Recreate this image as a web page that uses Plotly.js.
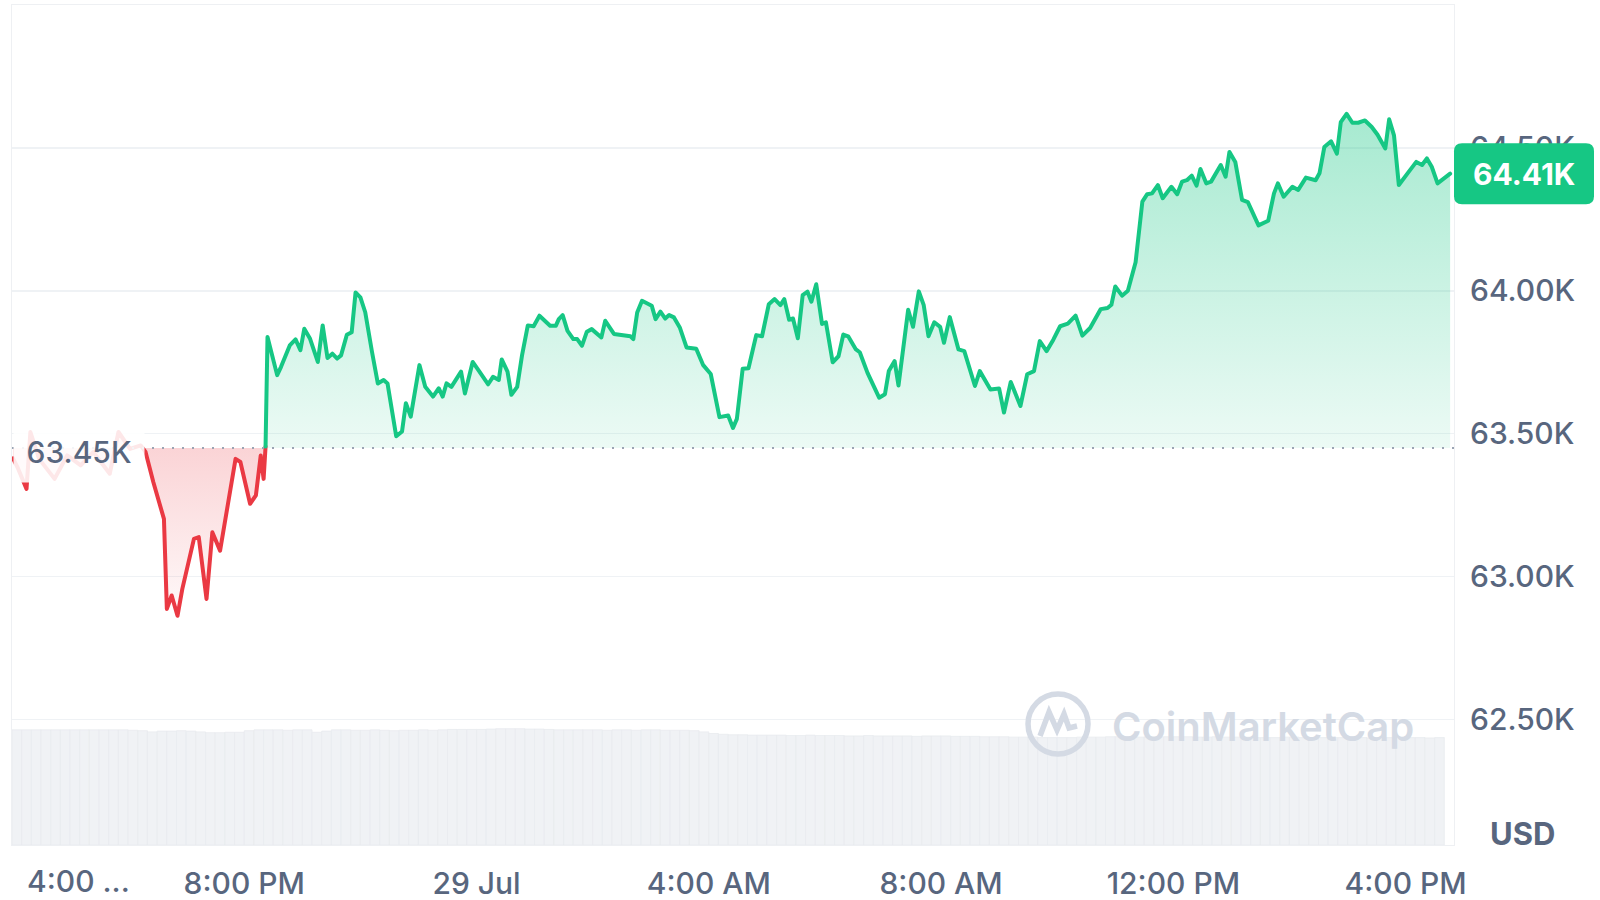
<!DOCTYPE html>
<html>
<head>
<meta charset="utf-8">
<script src="https://cdn.plot.ly/plotly-3.0.1.min.js"></script>
<style>
  html, body { margin: 0; padding: 0; background: #ffffff; }
  #chart { width: 1600px; height: 900px; }
  #chart .scatterlayer path.js-line { stroke-linejoin: round; stroke-linecap: round; }
</style>
</head>
<body>
<div id="chart"></div>
<script>
// ---------- DATA ----------
const openPrice = 63450;           // reference (dotted) price
const splitIndex = 31;             // index where the line crosses above the open price

const timesJul28 = ["16:01","16:06","16:15","16:19","16:28","16:44","16:57","17:11","17:24","17:41","17:50",
  "18:02","18:13","18:18","18:26","18:37","18:40","18:45","18:51","18:56","19:08","19:13","19:21","19:27","19:35",
  "19:51","19:56","20:06","20:12","20:17","20:20","20:22","20:24","20:34","20:38","20:47","20:53","20:58","21:02",
  "21:08","21:16","21:21","21:26","21:31","21:36","21:40","21:46","21:51","21:55","22:00","22:05","22:12","22:18",
  "22:24","22:28","22:37","22:43","22:47","22:52","23:01","23:07","23:15","23:21","23:25","23:29","23:34","23:44",
  "23:48","23:56"];
const timesJul29 = ["00:03","00:12","00:17","00:23","00:26","00:32","00:36","00:42","00:47","00:53","00:59",
  "01:05","01:16","01:22","01:25","01:29","01:34","01:40","01:44","01:49","01:54","01:59","02:09","02:13","02:22",
  "02:39","02:42","02:46","02:51","03:01","03:05","03:10","03:15","03:19","03:24","03:30","03:37","03:47","03:54",
  "04:02","04:11","04:20","04:25","04:29","04:35","04:41","04:49","04:55","05:02","05:08","05:14","05:18","05:23",
  "05:27","05:32","05:37","05:42","05:46","05:51","05:57","06:01","06:08","06:14","06:19","06:24","06:32","06:36",
  "06:44","06:56","07:02","07:06","07:12","07:16","07:26","07:31","07:37","07:42","07:47","07:53","07:59","08:03",
  "08:09","08:18","08:24","08:35","08:40","08:51","09:00","09:05","09:12","09:22","09:29","09:36","09:42","09:49",
  "09:56","10:03","10:11","10:19","10:26","10:34","10:45","10:52","10:56","11:00","11:07","11:13","11:17","11:21",
  "11:28","11:33","11:38","11:44","11:49","11:58","12:04","12:09","12:14","12:19","12:24","12:28","12:34","12:39",
  "12:49","12:54","12:58","13:04","13:11","13:17","13:28","13:38","13:44","13:48","13:54","14:03","14:09","14:17",
  "14:27","14:31","14:36","14:43","14:49","14:53","14:59","15:05","15:11","15:18","15:25","15:31","15:39","15:43",
  "15:48","15:53","16:02","16:11","16:17","16:22","16:27","16:33","16:46"];

const prices = [63414,63380,63307,63506,63412,63342,63424,63389,63436,63360,63506,63447,63459,63436,63331,
  63202,62887,62934,62863,62957,63132,63138,62922,63155,63091,63412,63401,63255,63284,63424,63342,63455,
  63838,63705,63734,63809,63830,63792,63867,63832,63751,63879,63765,63780,63763,63774,63846,63855,63994,
  63977,63925,63786,63676,63688,63676,63491,63508,63607,63560,63740,63664,63630,63659,63630,63676,63664,
  63717,63641,63751,63717,63673,63699,63688,63760,63717,63636,63664,63774,63879,63876,63913,63878,63878,
  63901,63915,63860,63831,63831,63808,63857,63866,63837,63895,63849,63841,63831,63924,63965,63948,63901,
  63927,63903,63915,63907,63872,63802,63797,63741,63709,63558,63564,63520,63552,63727,63729,63845,63841,
  63953,63971,63950,63971,63899,63903,63834,63985,63997,63962,64023,63884,63890,63750,63771,63847,63841,
  63795,63785,63713,63626,63638,63719,63754,63669,63934,63874,63998,63951,63841,63890,63874,63818,63908,
  63795,63789,63667,63719,63655,63658,63574,63681,63597,63708,63719,63824,63789,63829,63876,63885,63913,
  63843,63870,63936,63940,63951,64015,63983,64000,64050,64100,64312,64338,64341,64370,64324,64364,64338,
  64382,64387,64403,64368,64426,64376,64382,64440,64399,64486,64451,64318,64310,64229,64245,64341,64376,
  64329,64364,64353,64396,64387,64411,64503,64523,64480,64590,64619,64588,64588,64596,64573,64546,64498,
  64600,64544,64370,64411,64451,64440,64463,64434,64376,64410];

// 24h volume (billions USD), one bar every 10 minutes starting 16:05
const volumeStart = "2024-07-28 16:05";
const volumeStepMinutes = 10;
const volumes = [
  28.5,28.5,28.5,28.5,28.5,28.5, 28.5,28.5,28.5,28.5,28.5,28.5,
  28.4,28.3,28.0,28.2,28.2,28.3, 28.2,28.0,27.8,27.8,27.9,27.9,
  28.3,28.5,28.5,28.5,28.4,28.5, 28.5,27.9,28.2,28.5,28.5,28.4,
  28.4,28.5,28.4,28.3,28.4,28.4, 28.5,28.4,28.5,28.6,28.6,28.6,
  28.6,28.7,28.8,28.8,28.8,28.7, 28.7,28.6,28.5,28.5,28.5,28.5,
  28.5,28.4,28.5,28.5,28.4,28.5, 28.5,28.4,28.4,28.4,28.3,28.0,
  27.6,27.4,27.3,27.3,27.2,27.2, 27.2,27.2,27.1,27.1,27.2,27.1,
  27.1,27.1,27.0,27.0,27.1,27.0, 27.0,27.0,27.0,26.9,27.0,27.0,
  27.0,26.9,26.9,26.9,26.8,26.8, 26.8,26.7,26.7,26.7,26.6,26.6,
  26.6,26.6,26.7,26.7,26.7,26.8, 26.8,26.7,26.7,26.8,26.8,26.8,
  26.8,26.8,26.7,26.7,26.8,26.7, 26.7,26.7,26.6,26.6,26.6,26.7,
  26.7,26.6,26.6,26.6,26.6,26.6, 26.5,26.6,26.5,26.6,26.6,26.6,
  26.6,26.6,26.5,26.6];

const xTickVals = ["2024-07-28 20:00","2024-07-29 00:00","2024-07-29 04:00","2024-07-29 08:00","2024-07-29 12:00","2024-07-29 16:00"];
const xTickText = ["8:00 PM","29 Jul","4:00 AM","8:00 AM","12:00 PM","4:00 PM"];
const firstTickText = "4:00 ...";
const yTickVals = [62500,63000,63500,64000,64500];
const yTickText = ["62.50K","63.00K","63.50K","64.00K","64.50K"];
const xRange = ["2024-07-28 16:00","2024-07-29 16:50"];
const yRange = [62061, 65000];

// ---------- BUILD ----------
const times = timesJul28.map(t => "2024-07-28 " + t).concat(timesJul29.map(t => "2024-07-29 " + t));
const pad = n => String(n).padStart(2, "0");
const vStart = new Date(volumeStart.replace(" ", "T"));
const volTimes = volumes.map((_, i) => {
  const d = new Date(vStart.getTime() + i * volumeStepMinutes * 60000);
  return d.getFullYear() + "-" + pad(d.getMonth() + 1) + "-" + pad(d.getDate()) + " " + pad(d.getHours()) + ":" + pad(d.getMinutes());
});

const redT = times.slice(0, splitIndex + 1), redP = prices.slice(0, splitIndex + 1);
const grnT = times.slice(splitIndex), grnP = prices.slice(splitIndex);

const GREEN = "#16c784", RED = "#ea3943", LABEL = "#58667e";
const fmtK = v => (v / 1000).toFixed(2) + "K";

const traces = [
  { type: "bar", x: volTimes, y: volumes, yaxis: "y2", width: volumeStepMinutes * 60000,
    marker: { color: "#f0f2f5", line: { width: 0.8, color: "#e8ebef" } }, hoverinfo: "skip" },
  { type: "scatter", mode: "lines", x: [redT[0], redT[redT.length - 1]], y: [openPrice, openPrice],
    line: { width: 0, color: "rgba(0,0,0,0)" }, hoverinfo: "skip" },
  { type: "scatter", mode: "lines", x: redT, y: redP, fill: "tonexty",
    fillgradient: { type: "vertical", start: Math.min(...redP), stop: openPrice,
      colorscale: [[0, "rgba(234,57,67,0.03)"], [1, "rgba(234,57,67,0.22)"]] },
    line: { color: RED, width: 4 }, hoverinfo: "skip" },
  { type: "scatter", mode: "lines", x: [grnT[0], grnT[grnT.length - 1]], y: [openPrice, openPrice],
    line: { width: 0, color: "rgba(0,0,0,0)" }, hoverinfo: "skip" },
  { type: "scatter", mode: "lines", x: grnT, y: grnP, fill: "tonexty",
    fillgradient: { type: "vertical", start: openPrice, stop: Math.max(...grnP),
      colorscale: [[0, "rgba(22,199,132,0.08)"], [1, "rgba(22,199,132,0.38)"]] },
    line: { color: GREEN, width: 4 }, hoverinfo: "skip" }
];

const volMax = Math.max(...volumes) / 0.1385;
const lastPrice = prices[prices.length - 1];
const lastPaperY = (lastPrice - yRange[0]) / (yRange[1] - yRange[0]);

const layout = {
  width: 1600, height: 900,
  margin: { l: 12, r: 146, t: 5, b: 55 },
  paper_bgcolor: "#ffffff", plot_bgcolor: "#ffffff",
  showlegend: false, hovermode: false,
  font: { family: "Inter, 'Noto Sans', sans-serif", color: LABEL },
  bargap: 0,
  xaxis: {
    type: "date", range: xRange, tickvals: xTickVals, ticktext: xTickText,
    tickfont: { size: 30, color: LABEL, weight: 500 }, ticks: "", ticklabelstandoff: 12,
    showgrid: false, zeroline: false, showline: true, linecolor: "#eef0f3", linewidth: 1, mirror: true,
    fixedrange: true
  },
  yaxis: {
    side: "right", range: yRange, tickvals: yTickVals, ticktext: yTickText,
    tickfont: { size: 30, color: LABEL, weight: 500 }, ticks: "", ticklabelstandoff: 9,
    showgrid: true, gridcolor: "#eff2f5", gridwidth: 1.5, zeroline: false,
    showline: true, linecolor: "#eef0f3", linewidth: 1, mirror: true, fixedrange: true
  },
  yaxis2: { overlaying: "y", range: [0, volMax], visible: false, fixedrange: true },
  shapes: [
    { type: "line", xref: "paper", yref: "y", x0: 0, x1: 1, y0: openPrice, y1: openPrice,
      line: { color: "#9ba4b3", width: 2, dash: "2px,8px" }, layer: "above" },
    // price tag background (rounded)
    { type: "path", xref: "paper", yref: "paper", xsizemode: "pixel", ysizemode: "pixel",
      xanchor: 1, yanchor: lastPaperY,
      path: "M 8,-30.5 L 132,-30.5 Q 140,-30.5 140,-22.5 L 140,22.5 Q 140,30.5 132,30.5 L 8,30.5 Q 0,30.5 0,22.5 L 0,-22.5 Q 0,-30.5 8,-30.5 Z",
      fillcolor: GREEN, line: { width: 0 }, layer: "above" },
    // watermark logo
    { type: "circle", xref: "paper", yref: "paper", xsizemode: "pixel", ysizemode: "pixel",
      xanchor: 0.7254, yanchor: 0.144, x0: -30, x1: 30, y0: -30, y1: 30,
      line: { color: "#d4dae4", width: 5.5 }, fillcolor: "rgba(0,0,0,0)", layer: "above" },
    { type: "path", xref: "paper", yref: "paper", xsizemode: "pixel", ysizemode: "pixel",
      xanchor: 0.7254, yanchor: 0.144,
      path: "M -18,-12 L -9,12 L -1,-6 L 6,10 L 11,-4 L 19,-2",
      line: { color: "#d4dae4", width: 5.5 }, layer: "above" }
  ],
  annotations: [
    { xref: "paper", yref: "y", x: 0.0005, y: openPrice, xanchor: "left", yanchor: "middle", yshift: -4,
      width: 128, height: 58, align: "center", valign: "middle",
      text: fmtK(openPrice), showarrow: false, bgcolor: "rgba(255,255,255,0.88)", borderpad: 1,
      font: { size: 30, color: LABEL, weight: 500 } },
    { xref: "paper", yref: "paper", x: 1, y: lastPaperY, xanchor: "center", yanchor: "middle", xshift: 70,
      text: fmtK(lastPrice), showarrow: false, font: { size: 30, color: "#ffffff", weight: 700 } },
    { xref: "paper", yref: "paper", x: 1.0472, y: 0.0131, xanchor: "center", yanchor: "middle",
      text: "USD", showarrow: false, font: { size: 31, color: LABEL, weight: 700 } },
    { xref: "paper", yref: "paper", x: 0.009, y: -0.0429, xanchor: "left", yanchor: "middle",
      text: firstTickText, showarrow: false, font: { size: 30, color: LABEL, weight: 500 } },
    { xref: "paper", yref: "paper", x: 0.8675, y: 0.1405, xanchor: "center", yanchor: "middle",
      text: "CoinMarketCap", showarrow: false, font: { size: 40, color: "#d4dae4", weight: 600 } }
  ]
};

Plotly.newPlot("chart", traces, layout, { displayModeBar: false, staticPlot: true });
</script>
</body>
</html>
